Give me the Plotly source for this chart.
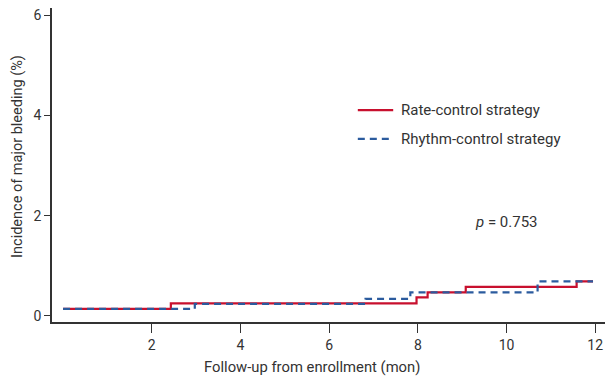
import plotly.graph_objects as go

# Data (months, cumulative incidence %)
rate_x = [0, 2.43, 7.97, 8.22, 9.08, 11.58, 11.95]
rate_y = [0.14, 0.25, 0.37, 0.47, 0.58, 0.69, 0.69]
rhythm_x = [0, 2.97, 6.82, 7.83, 10.7, 11.95]
rhythm_y = [0.14, 0.24, 0.34, 0.47, 0.69, 0.69]

x_ticks = [2, 4, 6, 8, 10, 12]
y_ticks = [0, 2, 4, 6]

RED = "#c8102e"
BLUE = "#2b5b9e"
TXT = "#333333"
FONT = "Roboto, sans-serif"

fig = go.Figure()
fig.add_trace(go.Scatter(x=rate_x, y=rate_y, mode="lines", line_shape="hv",
                         line=dict(color=RED, width=2.2), name="Rate-control strategy",
                         showlegend=False))
fig.add_trace(go.Scatter(x=rhythm_x, y=rhythm_y, mode="lines", line_shape="hv",
                         line=dict(color=BLUE, width=2.2, dash="7px,5px"),
                         name="Rhythm-control strategy", showlegend=False))

# manual legend
legend = [("Rate-control strategy", RED, "solid", 0.675),
          ("Rhythm-control strategy", BLUE, "7px,5px", 0.583)]
for label, col, dash, yy in legend:
    fig.add_shape(type="line", xref="paper", yref="paper", x0=0.553, x1=0.617,
                  y0=yy, y1=yy, line=dict(color=col, width=2.2, dash=dash))
    fig.add_annotation(xref="paper", yref="paper", x=0.627, y=yy, text=label,
                       showarrow=False, xanchor="left", yanchor="middle",
                       font=dict(size=15, color=TXT, family=FONT))

fig.add_annotation(xref="paper", yref="paper", x=0.821, y=0.318,
                   text="<i>p</i> = 0.753", showarrow=False, xanchor="center",
                   yanchor="middle", font=dict(size=15, color=TXT, family=FONT))

# axis titles
fig.add_annotation(xref="paper", yref="paper", x=0.47, y=-0.143,
                   text="Follow-up from enrollment (mon)", showarrow=False,
                   xanchor="center", yanchor="middle",
                   font=dict(size=14.8, color=TXT, family=FONT))
fig.add_annotation(xref="paper", yref="paper", x=-0.0615, y=0.529,
                   text="Incidence of major bleeding (%)", showarrow=False, textangle=-90,
                   xanchor="center", yanchor="middle",
                   font=dict(size=14.5, color=TXT, family=FONT))

fig.update_layout(
    width=608, height=384,
    margin=dict(l=52, r=3, t=8, b=62),
    paper_bgcolor="white", plot_bgcolor="white",
    font=dict(family=FONT, size=14, color=TXT),
    xaxis=dict(range=[-0.25, 12.22], tickvals=x_ticks, showgrid=False, zeroline=False,
               showline=True, linecolor=TXT, linewidth=1.5, ticks="outside",
               ticklen=9, tickwidth=1.2, tickcolor=TXT, tickfont=dict(size=14)),
    yaxis=dict(range=[-0.12, 6.14], tickvals=y_ticks, showgrid=False, zeroline=False,
               showline=True, linecolor=TXT, linewidth=1.5, ticks="outside",
               ticklen=6, tickwidth=1.2, tickcolor=TXT, tickfont=dict(size=14)),
)

fig.write_html("out.html")
